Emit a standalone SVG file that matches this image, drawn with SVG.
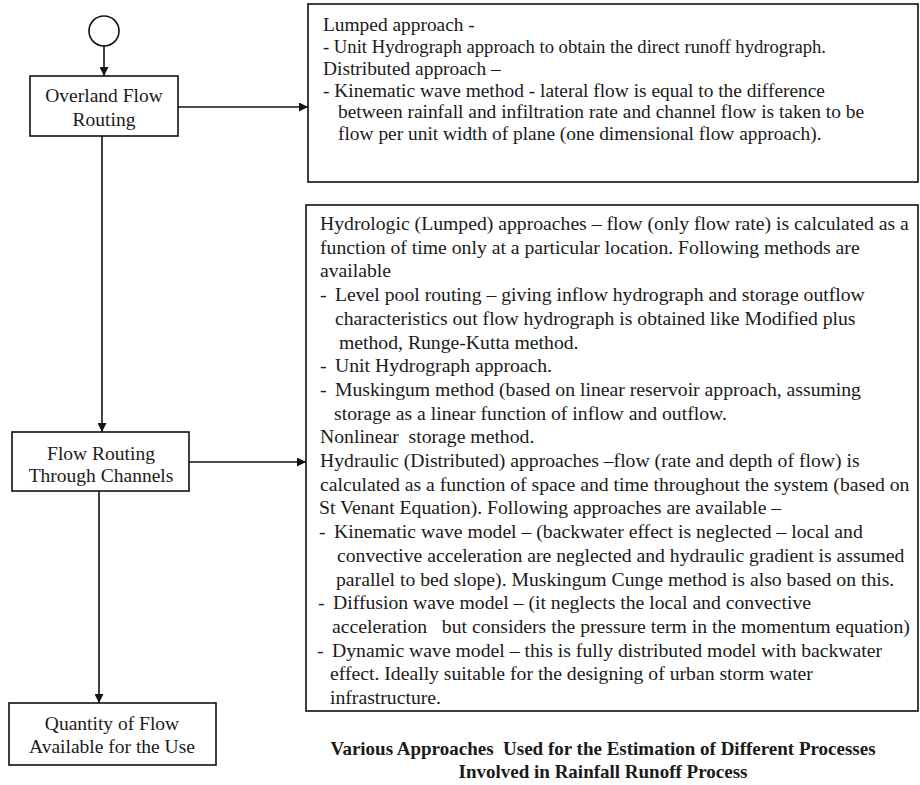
<svg xmlns="http://www.w3.org/2000/svg" width="920" height="785" viewBox="0 0 920 785">
<style>
.bg{fill:#ffffff}
.box{fill:none;stroke:#111;stroke-width:1.6}
.ln{fill:none;stroke:#111;stroke-width:1.6}
.t1{font-family:"Liberation Serif","Times New Roman",serif;font-size:19.4px;fill:#1a1a1a}
.t{font-family:"Liberation Serif","Times New Roman",serif;font-size:19.7px;fill:#1a1a1a}
.n{font-family:"Liberation Serif","Times New Roman",serif;font-size:19.5px;fill:#1a1a1a;text-anchor:middle}
.cap{font-family:"Liberation Serif","Times New Roman",serif;font-size:19px;font-weight:bold;fill:#1a1a1a;text-anchor:middle}
</style>
<defs>
<marker id="ah" viewBox="0 0 10 10" refX="10" refY="5" markerWidth="9" markerHeight="9" markerUnits="userSpaceOnUse" orient="auto">
<path d="M0,0 L10,5 L0,10 z" fill="#111"/>
</marker>
</defs>
<rect class="bg" x="0" y="0" width="920" height="785"/>

<g id="start">
<circle cx="104" cy="31" r="15" fill="#fff" stroke="#111" stroke-width="1.6"/>
</g>

<g id="overland">
<rect class="box" x="30" y="76" width="148" height="60"/>
<text class="n" x="104" y="102">Overland Flow</text>
<text class="n" x="104" y="126">Routing</text>
</g>

<g id="channels">
<rect class="box" x="12" y="432" width="177" height="59"/>
<text class="n" x="101" y="460">Flow Routing</text>
<text class="n" x="101" y="482">Through Channels</text>
</g>

<g id="quantity">
<rect class="box" x="9" y="703" width="207" height="62"/>
<text class="n" x="112" y="730">Quantity of Flow</text>
<text class="n" x="112" y="753">Available for the Use</text>
</g>

<g id="overland-notes">
<rect class="box" x="308" y="4" width="610" height="178"/>
<text class="t1" x="323" y="31">Lumped approach -</text>
<text class="t1" x="323" y="53" textLength="503" lengthAdjust="spacingAndGlyphs">- Unit Hydrograph approach to obtain the direct runoff hydrograph.</text>
<text class="t1" x="323" y="75">Distributed approach –</text>
<text class="t1" x="323" y="97">- Kinematic wave method - lateral flow is equal to the difference</text>
<text class="t1" x="338" y="118">between rainfall and infiltration rate and channel flow is taken to be</text>
<text class="t1" x="338" y="140">flow per unit width of plane (one dimensional flow approach).</text>
</g>

<g id="channel-notes">
<rect class="box" x="306" y="205" width="612" height="506"/>
<text class="t" x="320" y="230">Hydrologic (Lumped) approaches – flow (only flow rate) is calculated as a</text>
<text class="t" x="320" y="253.7">function of time only at a particular location. Following methods are</text>
<text class="t" x="320" y="277.4">available</text>
<text class="t" y="301.1"><tspan x="320">-</tspan><tspan x="335">Level pool routing – giving inflow hydrograph and storage outflow</tspan></text>
<text class="t" x="335" y="324.8">characteristics out flow hydrograph is obtained like Modified plus</text>
<text class="t" x="339" y="348.5">method, Runge-Kutta method.</text>
<text class="t" y="372.2"><tspan x="320">-</tspan><tspan x="335">Unit Hydrograph approach.</tspan></text>
<text class="t" y="395.9"><tspan x="320">-</tspan><tspan x="335">Muskingum method (based on linear reservoir approach, assuming</tspan></text>
<text class="t" x="334" y="419.6">storage as a linear function of inflow and outflow.</text>
<text class="t" x="320" y="443.3" xml:space="preserve">Nonlinear  storage method.</text>
<text class="t" x="320" y="467">Hydraulic (Distributed) approaches –flow (rate and depth of flow) is</text>
<text class="t" x="320" y="490.7">calculated as a function of space and time throughout the system (based on</text>
<text class="t" x="319" y="514.4">St Venant Equation). Following approaches are available –</text>
<text class="t" y="538.1"><tspan x="319">-</tspan><tspan x="334">Kinematic wave model – (backwater effect is neglected – local and</tspan></text>
<text class="t" x="337" y="561.8">convective acceleration are neglected and hydraulic gradient is assumed</text>
<text class="t" x="336" y="585.5">parallel to bed slope). Muskingum Cunge method is also based on this.</text>
<text class="t" y="609.2"><tspan x="318">-</tspan><tspan x="333">Diffusion wave model – (it neglects the local and convective</tspan></text>
<text class="t" x="332" y="632.9" xml:space="preserve">acceleration   but considers the pressure term in the momentum equation)</text>
<text class="t" y="656.6"><tspan x="317">-</tspan><tspan x="332">Dynamic wave model – this is fully distributed model with backwater</tspan></text>
<text class="t" x="330" y="680.3">effect. Ideally suitable for the designing of urban storm water</text>
<text class="t" x="330" y="704">infrastructure.</text>
</g>

<g id="caption">
<text class="cap" x="603" y="755" xml:space="preserve">Various Approaches  Used for the Estimation of Different Processes</text>
<text class="cap" x="603" y="778">Involved in Rainfall Runoff Process</text>
</g>

<g id="connectors">
<line class="ln" x1="104" y1="46" x2="104" y2="76" marker-end="url(#ah)"/>
<line class="ln" x1="178" y1="107" x2="308" y2="107" marker-end="url(#ah)"/>
<line class="ln" x1="102" y1="136" x2="102" y2="432" marker-end="url(#ah)"/>
<line class="ln" x1="189" y1="462" x2="306" y2="462" marker-end="url(#ah)"/>
<line class="ln" x1="99" y1="491" x2="99" y2="703" marker-end="url(#ah)"/>
</g>
</svg>
